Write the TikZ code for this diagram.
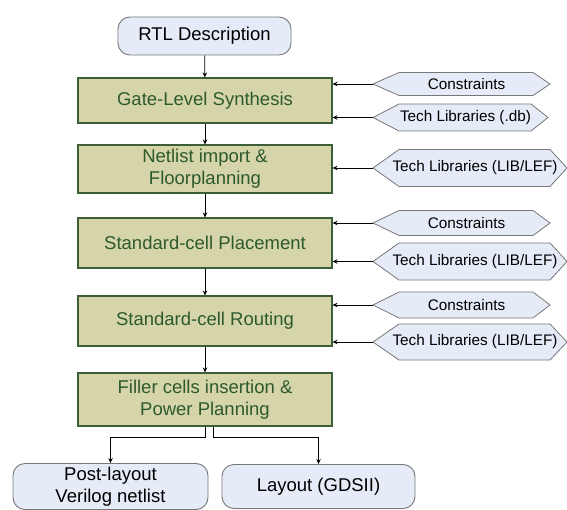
\documentclass[tikz,border=0pt]{standalone}
\usepackage{fontspec}
\setmainfont{Liberation Sans}
\usetikzlibrary{arrows.meta,calc}
\definecolor{gfill}{RGB}{214,213,170}
\definecolor{gline}{RGB}{60,95,55}
\definecolor{gtext}{RGB}{45,90,45}
\definecolor{bfill}{RGB}{229,235,247}
\definecolor{bline}{RGB}{120,120,120}
\tikzset{
  stepbox/.style={draw=gline, fill=gfill, line width=1.1pt, text=gtext, align=center,
     minimum width=254pt, inner sep=0pt, font=\fontsize{18.5}{22}\selectfont},
  endbox/.style={draw=bline, fill=bfill, line width=0.9pt, rounded corners=12pt, align=center,
     inner sep=0pt, font=\fontsize{18.5}{22}\selectfont},
  hexst/.style={draw=bline, fill=bfill, line width=0.8pt},
  hextext/.style={inner sep=0pt, font=\fontsize{15.3}{18}\selectfont},
  arr/.style={draw=black, line width=0.8pt, -{Stealth[length=5pt,width=4.5pt]}},
}
\newcommand\hexnode[6]{%
  \draw[hexst] (#2,#4) -- (#2+26,#4-#5/2) -- (#3-17,#4-#5/2) -- (#3,#4) -- (#3-17,#4+#5/2) -- (#2+26,#4+#5/2) -- cycle;
  \node[hextext] (#1) at ({(#2+#3)/2+5},#4) {#6};
  \coordinate (#1tip) at (#2,#4);
}
\begin{document}
\begin{tikzpicture}[x=1pt,y=-1pt]
\useasboundingbox[fill=white] (0,0) rectangle (567,510);
% main column
\node[endbox, minimum width=173pt, minimum height=38pt] (rtl) at (204.5,36) {RTL Description};
\node[stepbox, minimum height=45pt] (gate) at (205,100.5) {Gate-Level Synthesis};
\node[stepbox, minimum height=48pt] (net) at (205,169) {Netlist import \&\\Floorplanning};
\node[stepbox, minimum height=50pt] (place) at (205,243) {Standard-cell Placement};
\node[stepbox, minimum height=50pt] (route) at (205,321) {Standard-cell Routing};
\node[stepbox, minimum height=53pt] (fill) at (205,399.5) {Filler cells insertion \&\\Power Planning};
\node[endbox, minimum width=195pt, minimum height=46pt] (post) at (110.5,486.5) {Post-layout\\Verilog netlist};
\node[endbox, minimum width=193pt, minimum height=44pt] (lay) at (318.5,486.5) {Layout (GDSII)};
% side inputs
\hexnode{c1}{373}{550}{84}{23}{Constraints}
\hexnode{t1}{373}{548}{117.5}{27}{Tech Libraries (.db)}
\hexnode{t2}{373}{567}{168}{37}{Tech Libraries (LIB/LEF)}
\hexnode{c3}{373}{550}{223}{25}{Constraints}
\hexnode{t3}{373}{567}{261.5}{37}{Tech Libraries (LIB/LEF)}
\hexnode{c4}{373}{550}{305}{26}{Constraints}
\hexnode{t4}{373}{567}{342}{36}{Tech Libraries (LIB/LEF)}
% connectors
\draw[arr] (rtl) -- (gate);
\draw[arr] (gate) -- (net);
\draw[arr] (net) -- (place);
\draw[arr] (place) -- (route);
\draw[arr] (route) -- (fill);
\draw[arr] (c1tip) -- (gate.east |- c1tip);
\draw[arr] (t1tip) -- (gate.east |- t1tip);
\draw[arr] (t2tip) -- (net.east |- t2tip);
\draw[arr] (c3tip) -- (place.east |- c3tip);
\draw[arr] (t3tip) -- (place.east |- t3tip);
\draw[arr] (c4tip) -- (route.east |- c4tip);
\draw[arr] (t4tip) -- (route.east |- t4tip);
\draw[arr] (fill.south) -- ++(0,11) -| (post.north);
\draw[arr] ([xshift=8pt]fill.south) -- ++(0,11) -| (lay.north);
\end{tikzpicture}
\end{document}
